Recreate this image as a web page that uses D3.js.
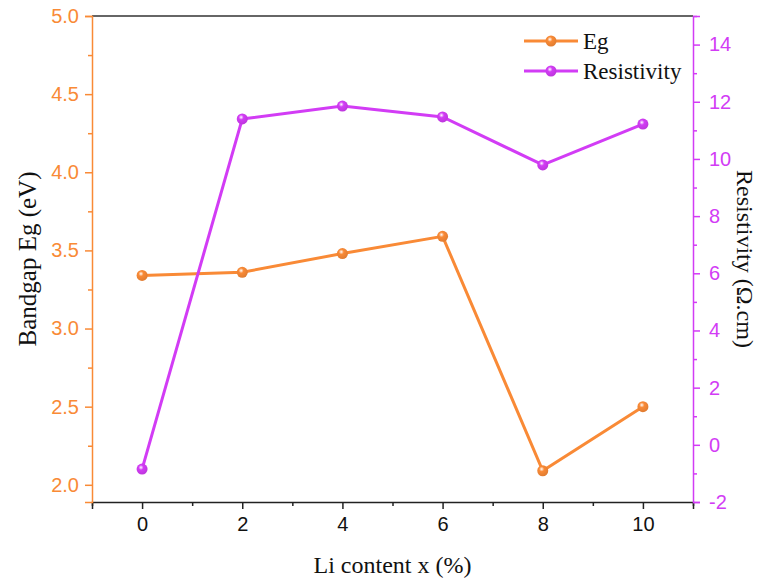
<!DOCTYPE html>
<html>
<head>
<meta charset="utf-8">
<script src="https://cdn.jsdelivr.net/npm/d3@7"></script>
<style>
  body { margin: 0; background: #fff; }
  .tick text { font-family: "Liberation Sans", Arial, sans-serif; }
</style>
</head>
<body>
<div id="chart"></div>
<script>
// data
const liContent = [0, 2, 4, 6, 8, 10];
const bandgap = [3.34, 3.36, 3.48, 3.59, 2.09, 2.50];
const resistivity = [-0.85, 11.4, 11.85, 11.47, 9.79, 11.22];
const xTicks = [0, 2, 4, 6, 8, 10];
const egTicks = [2.0, 2.5, 3.0, 3.5, 4.0, 4.5, 5.0];
const resTicks = [-2, 0, 2, 4, 6, 8, 10, 12, 14];

const W = 761, H = 580;
const margin = { top: 16, right: 68, bottom: 78, left: 92 };
const orange = "#f98a36";
const purple = "#d23cf5";

const svg = d3.select("#chart").append("svg")
  .attr("width", W).attr("height", H);

const x = d3.scaleLinear().domain([-1, 11]).range([margin.left, W - margin.right]);
const yEg = d3.scaleLinear().domain([1.89, 5.0]).range([H - margin.bottom, margin.top]);
const yRes = d3.scaleLinear().domain([-2, 15]).range([H - margin.bottom, margin.top]);

// gradients for sphere-like markers
const defs = svg.append("defs");
const sphere = (id, c) => {
  const g = defs.append("radialGradient").attr("id", id)
    .attr("cx", "40%").attr("cy", "35%").attr("r", "65%");
  g.append("stop").attr("offset", "0%").attr("stop-color", "#fff");
  g.append("stop").attr("offset", "35%").attr("stop-color", c);
  g.append("stop").attr("offset", "100%").attr("stop-color", d3.color(c).darker(0.3));
};
sphere("gOrange", orange);
sphere("gPurple", purple);

// top frame line
svg.append("line")
  .attr("x1", margin.left).attr("x2", W - margin.right)
  .attr("y1", margin.top).attr("y2", margin.top)
  .attr("stroke", "#333").attr("stroke-width", 1.5);

// bottom axis
const xAxis = svg.append("g").attr("transform", `translate(0,${H - margin.bottom})`)
  .call(d3.axisBottom(x).tickValues(xTicks).tickFormat(d3.format("d")).tickSize(7).tickPadding(8));
svg.append("g").attr("transform", `translate(0,${H - margin.bottom})`)
  .call(d3.axisBottom(x).tickValues([-1, 1, 3, 5, 7, 9, 11]).tickFormat("").tickSize(4))
  .select(".domain").remove();
xAxis.selectAll("text").attr("font-size", 20).attr("fill", "#111");
svg.selectAll("g line, g path").attr("stroke", "#222").attr("stroke-width", 1.5);

// left axis
const minor = (ticks) => ticks.slice(0, -1).map((t, i) => (t + ticks[i + 1]) / 2);
const yl = svg.append("g").attr("transform", `translate(${margin.left},0)`)
  .call(d3.axisLeft(yEg).tickValues(egTicks).tickFormat(d3.format(".1f")).tickSize(7).tickPadding(6));
const ylm = svg.append("g").attr("transform", `translate(${margin.left},0)`)
  .call(d3.axisLeft(yEg).tickValues(minor(egTicks)).tickFormat("").tickSize(4));
ylm.select(".domain").remove();
[yl, ylm].forEach(g => g.selectAll("line, path").attr("stroke", orange).attr("stroke-width", 1.5));
yl.selectAll("text").attr("font-size", 20).attr("fill", orange);

// right axis (plain hyphen for negatives, as in the original)
const yr = svg.append("g").attr("transform", `translate(${W - margin.right},0)`)
  .call(d3.axisRight(yRes).tickValues(resTicks).tickFormat(d => String(d)).tickSize(7).tickPadding(9));
const yrm = svg.append("g").attr("transform", `translate(${W - margin.right},0)`)
  .call(d3.axisRight(yRes).tickValues(minor(resTicks).concat([15])).tickFormat("").tickSize(4));
yrm.select(".domain").remove();
[yr, yrm].forEach(g => g.selectAll("line, path").attr("stroke", purple).attr("stroke-width", 1.5));
yr.selectAll("text").attr("font-size", 20).attr("fill", purple);

// axis titles
const serif = "'Liberation Serif', 'Times New Roman', serif";
svg.append("text").attr("x", (margin.left + W - margin.right) / 2).attr("y", 573)
  .attr("text-anchor", "middle").attr("font-family", serif).attr("font-size", 24)
  .attr("fill", "#111").text("Li content x (%)");
svg.append("text").attr("transform", `translate(36,${(margin.top + H - margin.bottom) / 2}) rotate(-90)`)
  .attr("text-anchor", "middle").attr("font-family", serif).attr("font-size", 25)
  .attr("fill", "#111").text("Bandgap Eg (eV)");
svg.append("text").attr("transform", `translate(737,${(margin.top + H - margin.bottom) / 2}) rotate(90)`)
  .attr("text-anchor", "middle").attr("font-family", serif).attr("font-size", 24)
  .attr("fill", "#111").text("Resistivity (Ω.cm)");

// series
const series = [
  { name: "Eg", values: bandgap, y: yEg, color: orange, grad: "gOrange" },
  { name: "Resistivity", values: resistivity, y: yRes, color: purple, grad: "gPurple" }
];

series.forEach(s => {
  const line = d3.line().x((d, i) => x(liContent[i])).y(d => s.y(d));
  svg.append("path").datum(s.values)
    .attr("d", line).attr("fill", "none")
    .attr("stroke", s.color).attr("stroke-width", 3);
  svg.selectAll(null).data(s.values).enter().append("circle")
    .attr("cx", (d, i) => x(liContent[i])).attr("cy", d => s.y(d))
    .attr("r", 5.5).attr("fill", `url(#${s.grad})`);
});

// legend
const legend = svg.append("g").attr("transform", "translate(524,41)");
series.forEach((s, i) => {
  const g = legend.append("g").attr("transform", `translate(0,${i * 30})`);
  g.append("line").attr("x1", 0).attr("x2", 54).attr("y1", 0).attr("y2", 0)
    .attr("stroke", s.color).attr("stroke-width", 3);
  g.append("circle").attr("cx", 27).attr("cy", 0).attr("r", 5.5).attr("fill", `url(#${s.grad})`);
  g.append("text").attr("x", 59).attr("y", 8)
    .attr("font-family", serif).attr("font-size", 23).attr("fill", "#111").text(s.name);
});
</script>
</body>
</html>
